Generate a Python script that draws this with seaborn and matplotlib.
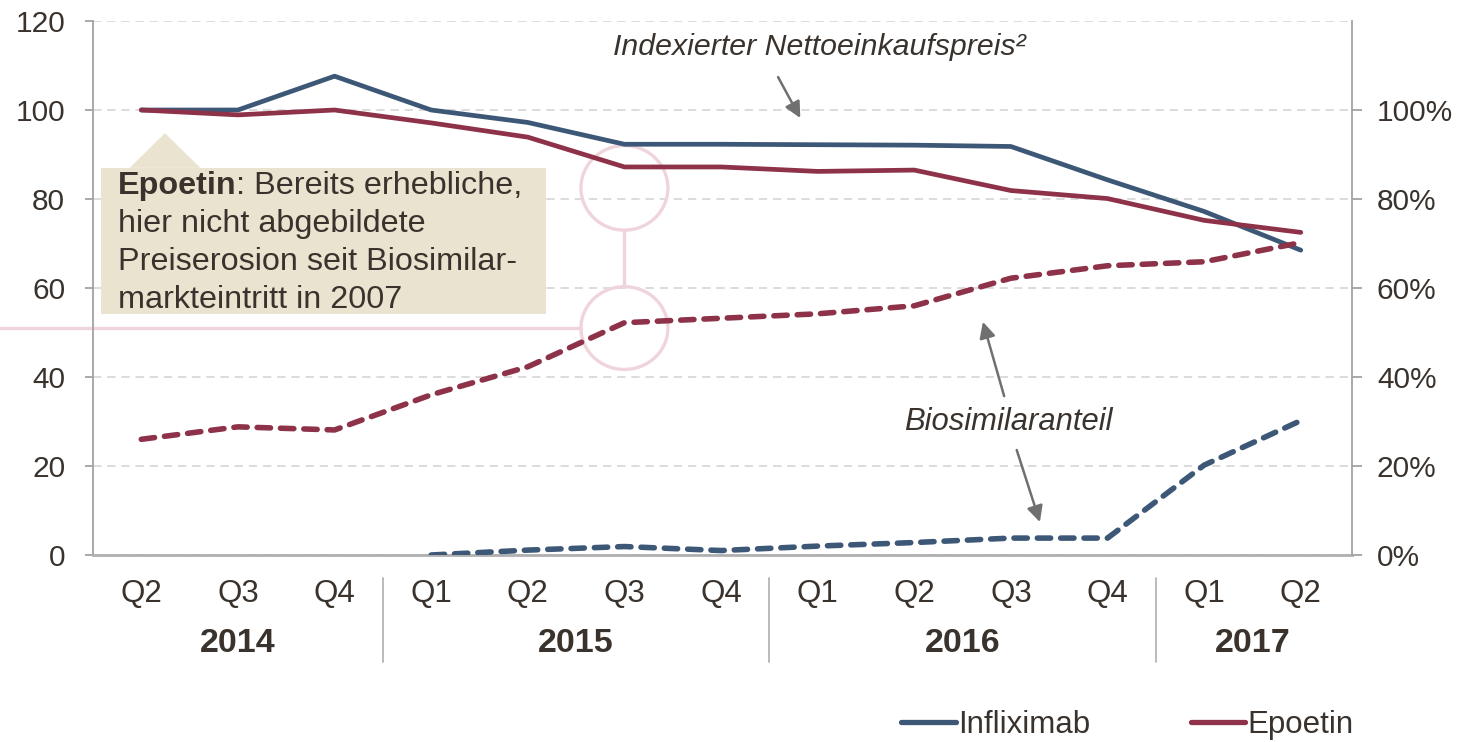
import matplotlib
matplotlib.use("Agg")
import matplotlib.pyplot as plt
import numpy as np
import pandas as pd
import seaborn as sns
from matplotlib.lines import Line2D
from matplotlib.patches import Ellipse, Polygon, Rectangle

# ---- data ----
quarters = ["Q2", "Q3", "Q4", "Q1", "Q2", "Q3", "Q4", "Q1", "Q2", "Q3", "Q4", "Q1", "Q2"]
years = ["2014", "2015", "2016", "2017"]
year_centers = [1, 4.5, 8.5, 11.5]
year_breaks = [2.5, 6.5, 10.5]

price_infliximab = [100, 100, 107.6, 100, 97.2, 92.3, 92.3, 92.2, 92.1, 91.8, 84.3, 77.2, 68.5]
price_epoetin = [100, 98.9, 100, 97.1, 93.9, 87.2, 87.2, 86.2, 86.5, 81.9, 80.1, 75.2, 72.5]
share_infliximab = [np.nan, np.nan, np.nan, 0, 1.1, 1.9, 1.0, 2.0, 2.8, 3.8, 3.8, 20.2, 30.2]
share_epoetin = [26.0, 28.8, 28.1, 36.0, 42.3, 52.2, 53.2, 54.2, 56.0, 62.2, 65.0, 65.9, 70.2]

left_ticks = [0, 20, 40, 60, 80, 100, 120]
right_ticks = [0, 20, 40, 60, 80, 100]

BLUE = "#3D5877"
RED = "#8E3249"
TEXT = "#3A332D"
GRID = "#D6D6D6"
SPINE = "#A3A3A3"
PINK = "#F0D4DB"
BEIGE = "#EAE3D0"
ARROW = "#707070"

sns.set_theme(style="white")
plt.rcParams["font.family"] = ["Liberation Sans", "DejaVu Sans"]
plt.rcParams["text.color"] = TEXT
FS_TICK = 21.5
FS_Q = 22.5
FS_YEAR = 24.5
FS_BOX = 23.3
FS_NOTE = 21.5
FS_LEG = 22.5

df = pd.DataFrame({
    "idx": np.arange(len(quarters)),
    "price_infliximab": price_infliximab,
    "price_epoetin": price_epoetin,
    "share_infliximab": share_infliximab,
    "share_epoetin": share_epoetin,
})

fig = plt.figure(figsize=(14.74, 7.42), dpi=100)
ax = fig.add_axes([93 / 1474, 1 - 555 / 742, (1352 - 93) / 1474, (555 - 21) / 742])
ax2 = ax.twinx()

# price lines (left axis)
sns.lineplot(data=df, x="idx", y="price_infliximab", ax=ax, color=BLUE, linewidth=3.4,
             legend=False, zorder=4)
sns.lineplot(data=df, x="idx", y="price_epoetin", ax=ax, color=RED, linewidth=3.4,
             legend=False, zorder=4)

# biosimilar share (right axis)
dash = (0, (2.4, 1.8))
sns.lineplot(data=df, x="idx", y="share_infliximab", ax=ax2, color=BLUE, linewidth=4.0,
             linestyle=dash, dash_capstyle="round", legend=False)
sns.lineplot(data=df, x="idx", y="share_epoetin", ax=ax2, color=RED, linewidth=4.0,
             linestyle=dash, dash_capstyle="round", legend=False)

for a in (ax, ax2):
    a.set_xlim(-0.5, 12.53)
    a.set_ylim(0, 120)
    a.set_xlabel("")
    a.set_ylabel("")

# left axis styling
ax.set_yticks(left_ticks)
ax.set_yticklabels([str(t) for t in left_ticks])
ax.tick_params(axis="y", left=True, length=6, width=1.3, color=SPINE, pad=14,
               labelsize=FS_TICK, labelcolor=TEXT)
ax.set_xticks(range(len(quarters)))
ax.set_xticklabels(quarters)
ax.tick_params(axis="x", bottom=False, length=0, pad=17, labelsize=FS_Q, labelcolor=TEXT)
ax.yaxis.grid(True, color=GRID, linestyle=(0, (5, 3.5)), linewidth=1.2)
ax.xaxis.grid(False)
ax.set_axisbelow(True)
for side in ("top", "right"):
    ax.spines[side].set_visible(False)
ax.spines["left"].set_color(SPINE)
ax.spines["left"].set_linewidth(1.3)
ax.spines["bottom"].set_color("#B0B0B0")
ax.spines["bottom"].set_linewidth(2)

# right axis styling
ax2.set_yticks(right_ticks)
ax2.set_yticklabels([f"{t}%" for t in right_ticks])
ax2.tick_params(axis="y", right=True, length=7, width=1.3, color=SPINE, pad=11,
                labelsize=FS_TICK, labelcolor=TEXT)
for side in ("top", "left", "bottom"):
    ax2.spines[side].set_visible(False)
ax2.spines["right"].set_color(SPINE)
ax2.spines["right"].set_linewidth(1.3)
ax2.grid(False)

# year row and separators
bt = ax.get_xaxis_transform()
for yr, xc in zip(years, year_centers):
    ax.text(xc, -0.165, yr, transform=bt, ha="center", va="center",
            fontsize=FS_YEAR, fontweight="bold", color=TEXT)
for xb in year_breaks:
    ax.plot([xb, xb], [-0.043, -0.2], transform=bt, color="#B5B5B5", lw=1.3, clip_on=False)

# pink highlight circles and connectors
ax.add_patch(Ellipse((5, 82.5), 0.9, 19.0, fill=False, edgecolor=PINK, lw=2.4, zorder=2))
ax.add_patch(Ellipse((5, 51.0), 0.9, 18.6, fill=False, edgecolor=PINK, lw=2.4, zorder=2))
ax.plot([5, 5], [73.0, 60.3], color=PINK, lw=2.4, zorder=2)
ax.plot([-1.47, 4.55], [51.0, 51.0], color=PINK, lw=2.4, zorder=2, clip_on=False)

# callout box
ax.add_patch(Rectangle((-0.42, 54.2), 4.61, 32.8, facecolor=BEIGE, edgecolor="none", zorder=3))
ax.add_patch(Polygon([(-0.12, 87.0), (0.245, 94.8), (0.61, 87.0)], closed=True,
                     facecolor=BEIGE, edgecolor="none", zorder=3))
t_bold = ax.text(-0.245, 81.1, "Epoetin", fontsize=FS_BOX, fontweight="bold",
                 ha="left", va="baseline", color=TEXT, zorder=5)
ax.annotate(": Bereits erhebliche,", xy=(1, 0), xycoords=t_bold, ha="left", va="bottom",
            fontsize=FS_BOX, color=TEXT, zorder=5)
for i, line in enumerate(["hier nicht abgebildete", "Preiserosion seit Biosimilar-",
                          "markteintritt in 2007"]):
    ax.text(-0.245, 81.1 - (i + 1) * 8.55, line, fontsize=FS_BOX, ha="left",
            va="baseline", color=TEXT, zorder=5)

# annotations with arrows
ax.text(7.02, 114.2, "Indexierter Nettoeinkaufspreis²", fontsize=FS_NOTE + 0.3, style="italic",
        ha="center", va="center", color=TEXT)
ax.text(8.97, 29.9, "Biosimilaranteil", fontsize=FS_NOTE + 0.8, style="italic",
        ha="center", va="center", color=TEXT)
arrow_kw = dict(arrowstyle="-|>", color=ARROW, lw=1.8, mutation_scale=24,
                shrinkA=0, shrinkB=0)
ax.annotate("", xy=(6.82, 98.2), xytext=(6.59, 107.4), arrowprops=arrow_kw, zorder=6)
ax.annotate("", xy=(8.71, 52.4), xytext=(8.93, 35.7), arrowprops=arrow_kw, zorder=6)
ax.annotate("", xy=(9.30, 7.4), xytext=(9.06, 23.6), arrowprops=arrow_kw, zorder=6)

# legend
handles = [Line2D([], [], color=BLUE, lw=3.8, solid_capstyle="round"),
           Line2D([], [], color=RED, lw=3.8, solid_capstyle="round")]
fig.legend(handles, ["Infliximab", "Epoetin"], loc="center right",
           bbox_to_anchor=(1354 / 1474, 1 - 725 / 742), ncol=2, frameon=False,
           fontsize=FS_LEG, handlelength=1.75, handletextpad=0.08, columnspacing=3.2,
           borderpad=0, borderaxespad=0)

fig.savefig("out.png", dpi=100, facecolor="white")
